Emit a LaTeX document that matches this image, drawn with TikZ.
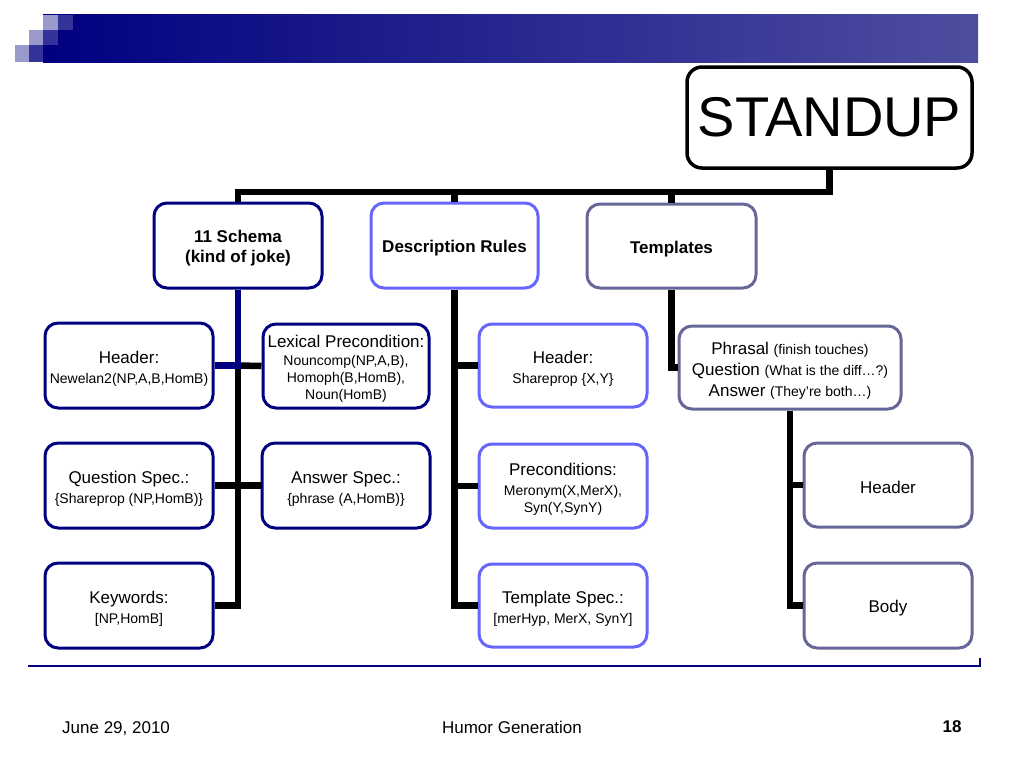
\documentclass[tikz,border=0pt]{standalone}
\usepackage{fontspec}
\setmainfont{Liberation Sans}
\definecolor{navyc}{RGB}{0,0,128}
\definecolor{barright}{RGB}{78,78,160}
\definecolor{sqlight}{RGB}{153,153,204}
\definecolor{sqmed}{RGB}{51,51,153}
\definecolor{descblue}{RGB}{102,102,255}
\definecolor{tmplgray}{RGB}{102,102,153}
\newcommand\bigtxt{\fontsize{17}{17}\selectfont}
\newcommand\smtxt{\fontsize{14}{17}\selectfont}
\newcommand\tstrut{\rule{0pt}{18pt}}
\tikzset{
  box/.style={draw, line width=3pt, rounded corners=13pt, fill=white,
    align=center, inner sep=2pt, font=\bigtxt, text=black},
  navybox/.style={box, draw=navyc},
  descbox/.style={box, draw=descblue},
  tmplbox/.style={box, draw=tmplgray},
  conn/.style={line width=6.5pt, black, line join=miter, line cap=butt},
  navyconn/.style={conn, draw=navyc},
  foot/.style={font=\fontsize{17}{19}\selectfont, inner sep=0pt}
}
\begin{document}
\begin{tikzpicture}[x=1pt,y=-1pt]
\useasboundingbox (0,0) rectangle (1024,768);
% header bar
\shade[left color=navyc, right color=barright] (43,15) rectangle (978,62);
\fill[sqlight] (43,15) rectangle (58,30);
\fill[sqmed] (58,15) rectangle (73,30);
\fill[sqlight] (29,30) rectangle (43,45);
\fill[sqmed] (43,30) rectangle (58,45);
\fill[sqlight] (15,45) rectangle (29,62);
\fill[sqmed] (29,45) rectangle (43,62);
% bottom rule
\draw[navyc, line width=2pt] (28,666) -- (980,666) -- (980,658);

% nodes
\node[box, line width=3.5pt, rounded corners=15pt, minimum width=285pt, minimum height=101pt,
  font=\fontsize{56}{60}\selectfont] (standup) at (829.5,117.5) {STANDUP};

\node[navybox, minimum width=168pt, minimum height=85pt, font=\bfseries\bigtxt] (schema) at (238,245.5) {\tstrut 11 Schema\\[3pt](kind of joke)};
\node[descbox, minimum width=167pt, minimum height=85pt, font=\bfseries\bigtxt] (desc) at (454.5,245.5) {\tstrut Description Rules};
\node[tmplbox, minimum width=169pt, minimum height=84pt, font=\bfseries\bigtxt] (tmpl) at (671.5,246) {\tstrut Templates};

\node[navybox, minimum width=168pt, minimum height=85pt] (h1) at (129,365.5) {\tstrut Header:\\[3pt]{\smtxt Newelan2(NP,A,B,HomB)}};
\node[navybox, minimum width=166pt, minimum height=84pt] (lex) at (346,366) {\tstrut Lexical Precondition:\\[1pt]{\smtxt Nouncomp(NP,A,B),}\\{\smtxt Homoph(B,HomB),}\\{\smtxt Noun(HomB)}};
\node[navybox, minimum width=168pt, minimum height=85pt] (q) at (129,485.5) {\tstrut Question Spec.:\\[3pt]{\smtxt \{Shareprop (NP,HomB)\}}};
\node[navybox, minimum width=168pt, minimum height=85pt] (ans) at (346,485.5) {\tstrut Answer Spec.:\\[3pt]{\smtxt \{phrase (A,HomB)\}}};
\node[navybox, minimum width=168pt, minimum height=85pt] (kw) at (129,605.5) {\tstrut Keywords:\\[3pt]{\smtxt [NP,HomB]}};

\node[descbox, minimum width=168pt, minimum height=83pt] (h2) at (563,365.5) {\tstrut Header:\\[3pt]{\smtxt Shareprop \{X,Y\}}};
\node[descbox, minimum width=168pt, minimum height=84pt] (pre) at (563,486) {\tstrut Preconditions:\\[3pt]{\smtxt Meronym(X,MerX),}\\{\smtxt Syn(Y,SynY)}};
\node[descbox, minimum width=168pt, minimum height=83pt] (ts) at (563,605.5) {\tstrut Template Spec.:\\[3pt]{\smtxt [merHyp, MerX, SynY]}};

\node[tmplbox, minimum width=222pt, minimum height=83pt] (phr) at (790,367.5) {\tstrut Phrasal {\smtxt (finish touches)}\\[4pt]Question {\smtxt (What is the diff…?)}\\[4pt]Answer {\smtxt (They’re both…)}};
\node[tmplbox, minimum width=168pt, minimum height=84pt] (h3) at (888,485) {\tstrut Header};
\node[tmplbox, minimum width=168pt, minimum height=85pt] (body) at (888,605.5) {\tstrut Body};

% connectors
\coordinate (bus) at (0,192);
\draw[conn] (standup.south) -- (standup.south |- bus) -- (schema.north |- bus) -- (schema.north);
\draw[conn] (desc.north |- bus) -- (desc.north);
\draw[conn] (tmpl.north |- bus) -- (tmpl.north);

\draw[conn] (schema.south |- h1.east) -- (schema.south |- kw.east) -- (kw.east);
\draw[conn] (schema.south |- h1.east) -- (lex.west);
\draw[conn] (q.east) -- (ans.west);
\draw[navyconn] (schema.south) -- (schema.south |- h1.east) -- (h1.east);

\draw[conn] (desc.south) -- (desc.south |- ts.west) -- (ts.west);
\draw[conn] (desc.south |- h2.west) -- (h2.west);
\draw[conn] (desc.south |- pre.west) -- (pre.west);

\draw[conn] (tmpl.south) -- (tmpl.south |- phr.west) -- (phr.west);
\draw[conn] (phr.south) -- (phr.south |- body.west) -- (body.west);
\draw[conn] (phr.south |- h3.west) -- (h3.west);

% footer
\node[foot, anchor=west] (date) at (62,729) {June 29, 2010};
\node[foot] (title) at (512,727) {Humor Generation};
\node[foot, font=\bfseries\fontsize{17}{19}\selectfont] (page) at (952,727) {18};
\end{tikzpicture}
\end{document}
